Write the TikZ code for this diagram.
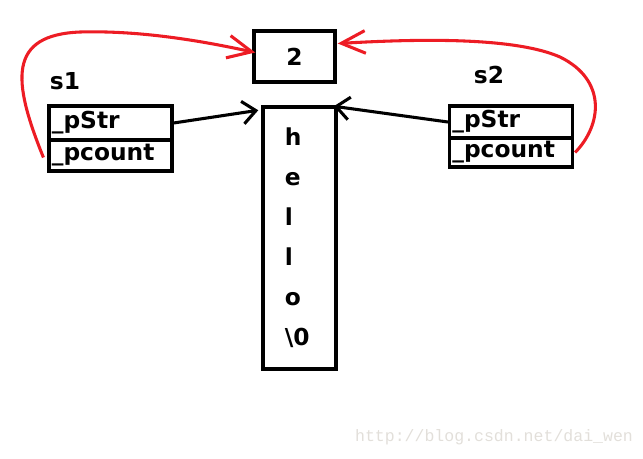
\documentclass[tikz,border=0pt]{standalone}
\usepackage{fontspec}
\setmainfont{DejaVu Sans}
\newfontfamily\markfont{Liberation Mono}
\usetikzlibrary{arrows.meta,positioning}
\definecolor{rojo}{HTML}{ED1C24}
\definecolor{marca}{HTML}{E2DFDA}
\tikzset{
  cell/.style={draw,line width=2.6pt,minimum width=92pt,text width=88pt,align=left,
    inner xsep=2pt,inner ysep=0pt,font=\fontsize{17.5}{18}\selectfont\bfseries},
  box/.style={draw,line width=2.6pt,inner sep=0pt,font=\fontsize{17.5}{18}\selectfont\bfseries},
  lbl/.style={font=\fontsize{17.5}{18}\selectfont\bfseries,inner sep=0pt},
  ptr/.style={-{Straight Barb[length=10pt,width=17pt]},line width=2.3pt},
  ref/.style={-{Straight Barb[length=18pt,width=17pt]},line width=2.3pt,draw=rojo}
}
\begin{document}
\begin{tikzpicture}[x=0.75pt,y=-0.75pt]
\useasboundingbox (0,0) rectangle (643,458);

\node[box,minimum width=60.75pt,minimum height=38.25pt] (cnt) at (294.5,56.5) {2};
\node[box,minimum width=54.75pt,minimum height=196.5pt,text width=22pt,align=left,
  inner xsep=13pt,font=\fontsize{17.5}{30}\selectfont\bfseries] (str) at (299.5,238)
  {h\\e\\l\\l\\o\\\textbackslash 0};

\node[lbl] (s1lbl) at (65,81) {s1};
\node[cell,minimum height=25.5pt] (s1str) at (110.5,123) {\_pStr};
\node[cell,minimum height=23.25pt] (s1cnt) at (110.5,155.5) {\_pcount};

\node[lbl] (s2lbl) at (489,75) {s2};
\node[cell,minimum width=91.5pt,minimum height=24pt] (s2str) at (511,122) {\_pStr};
\node[cell,minimum width=91.5pt,minimum height=21.75pt] (s2cnt) at (511,152.5) {\_pcount};

\node[font=\markfont\fontsize{12.4}{14}\selectfont,text=marca,inner sep=0pt] (mark) at (494,437)
  {http://blog.csdn.net/dai\_wen};

\draw[ptr] (s1str.east) -- ([shift={(-3,5)}]str.north west);
\draw[ptr] (s2str.west) -- ([shift={(-4,1)}]str.north east);
\draw[ref] ([shift={(-4,2)}]s1cnt.west) .. controls (12,80) and (8,35) .. (80,32)
  .. controls (150,30) and (220,45) .. ([shift={(3,-4)}]cnt.west);
\draw[ref] ([shift={(1,0)}]s2cnt.east) .. controls (602,125) and (607,80) .. (560,57)
  .. controls (510,35) and (400,40) .. ([shift={(1,-13)}]cnt.east);
\end{tikzpicture}
\end{document}
